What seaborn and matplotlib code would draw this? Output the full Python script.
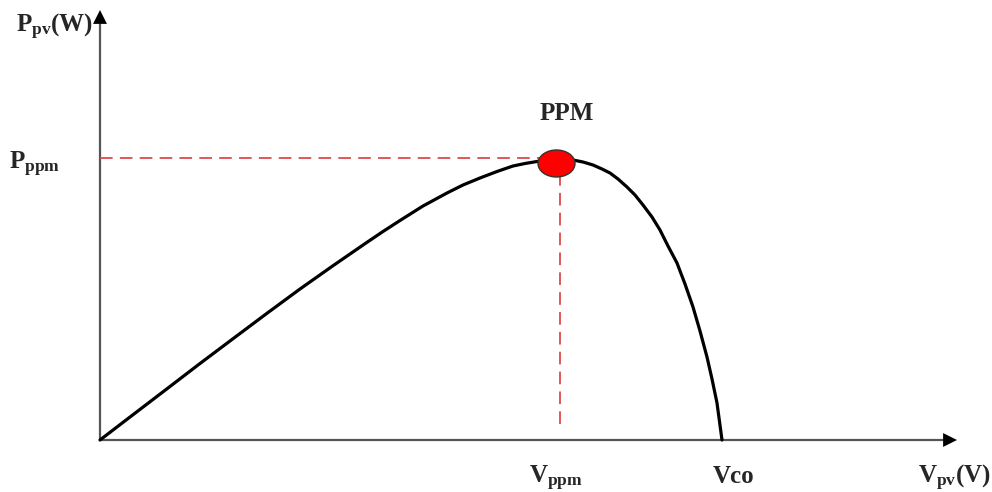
import numpy as np
import pandas as pd
import matplotlib
matplotlib.use("Agg")
import matplotlib.pyplot as plt
from matplotlib.patches import Ellipse
import seaborn as sns

# P-V curve (arbitrary units)
v_pv = [0.0, 3.33, 6.67, 10.0, 13.33, 16.67, 20.0, 23.33, 26.67, 28.3, 30.0,
        32.3, 34.7, 36.3, 38.0, 39.7, 41.3, 42.5, 43.7, 44.7, 45.7,
        47.3, 48.3, 49.3, 50.2, 51.0, 51.8, 52.7, 53.5, 54.3, 55.2, 56.0,
        56.8, 57.7, 58.5, 59.3, 60.0, 60.7, 61.2, 61.7, 62.2]
p_pv = [0.0, 2.55, 5.1, 7.65, 10.15, 12.65, 15.1, 17.45, 19.75, 20.85, 21.95,
        23.4, 24.7, 25.5, 26.2, 26.85, 27.4, 27.65, 27.85, 28.05, 28.2,
        28.0, 27.8, 27.5, 27.1, 26.7, 26.1, 25.3, 24.5, 23.5, 22.3, 21.0,
        19.4, 17.7, 15.6, 13.3, 10.9, 8.3, 6.1, 3.7, 0.0]

v_ppm = 46.0
p_ppm = 28.2

label_y = r"$\mathrm{P_{pv}(W)}$"
label_x = r"$\mathrm{V_{pv}(V)}$"
label_pppm = r"$\mathrm{P_{ppm}}$"
label_vppm = r"$\mathrm{V_{ppm}}$"
label_vco = "Vco"
label_ppm = "PPM"

df = pd.DataFrame({"V": v_pv, "P": p_pv})

sns.set_style("white")
plt.rcParams["font.family"] = ["Liberation Serif", "DejaVu Serif"]
plt.rcParams["mathtext.fontset"] = "custom"
plt.rcParams["mathtext.rm"] = "Liberation Serif:bold"
plt.rcParams["mathtext.bf"] = "Liberation Serif:bold"
plt.rcParams["mathtext.it"] = "Liberation Serif:bold"

fig = plt.figure(figsize=(9.92, 4.92), dpi=100)
ax = fig.add_axes([0, 0, 1, 1])
ax.set_xlim(-10, 89.2)
ax.set_ylim(-5.2, 44.0)
ax.axis("off")

# axes with arrows
axis_col = "#555555"
ax.plot([0, 84.3], [0, 0], color=axis_col, lw=1.6, zorder=2)
ax.plot([0, 0], [0, 41.6], color=axis_col, lw=1.6, zorder=2)
head = dict(arrowstyle="-|>,head_length=1.0,head_width=0.5", color="black",
            lw=0, shrinkA=0, shrinkB=0)
ax.annotate("", xy=(85.7, 0), xytext=(84.2, 0), arrowprops=head)
ax.annotate("", xy=(0, 43.0), xytext=(0, 41.5), arrowprops=head)

# dashed guide lines
red_dash = "#dd4b4b"
ax.plot([0, v_ppm - 2.0], [p_ppm, p_ppm], color=red_dash, lw=1.3,
        dashes=(7, 4), zorder=3)
ax.plot([v_ppm, v_ppm], [p_ppm - 1.5, 1.0], color=red_dash, lw=1.3,
        dashes=(7, 4), zorder=3)

# P-V curve
sns.lineplot(data=df, x="V", y="P", color="black", lw=2.3, ax=ax,
             sort=False, zorder=4, solid_joinstyle="round",
             solid_capstyle="round")

# maximum power point
ax.add_patch(Ellipse((45.65, 27.65), 3.7, 2.7, facecolor="#ff0000",
                     edgecolor="#333333", lw=1.0, zorder=5))

fs = 18
ax.text(-4.55, 40.8, label_y, fontsize=fs, ha="center", va="baseline")
ax.text(-6.5, 27.1, label_pppm, fontsize=fs, ha="center", va="baseline")
ax.text(46.7, 32.0, label_ppm, fontsize=fs, fontweight="bold",
        ha="center", va="baseline")
ax.text(45.65, -4.3, label_vppm, fontsize=fs, ha="center", va="baseline")
ax.text(63.4, -4.3, label_vco, fontsize=fs, fontweight="bold",
        ha="center", va="baseline")
ax.text(85.4, -4.3, label_x, fontsize=fs, ha="center", va="baseline")

fig.savefig("out.png", dpi=100)
